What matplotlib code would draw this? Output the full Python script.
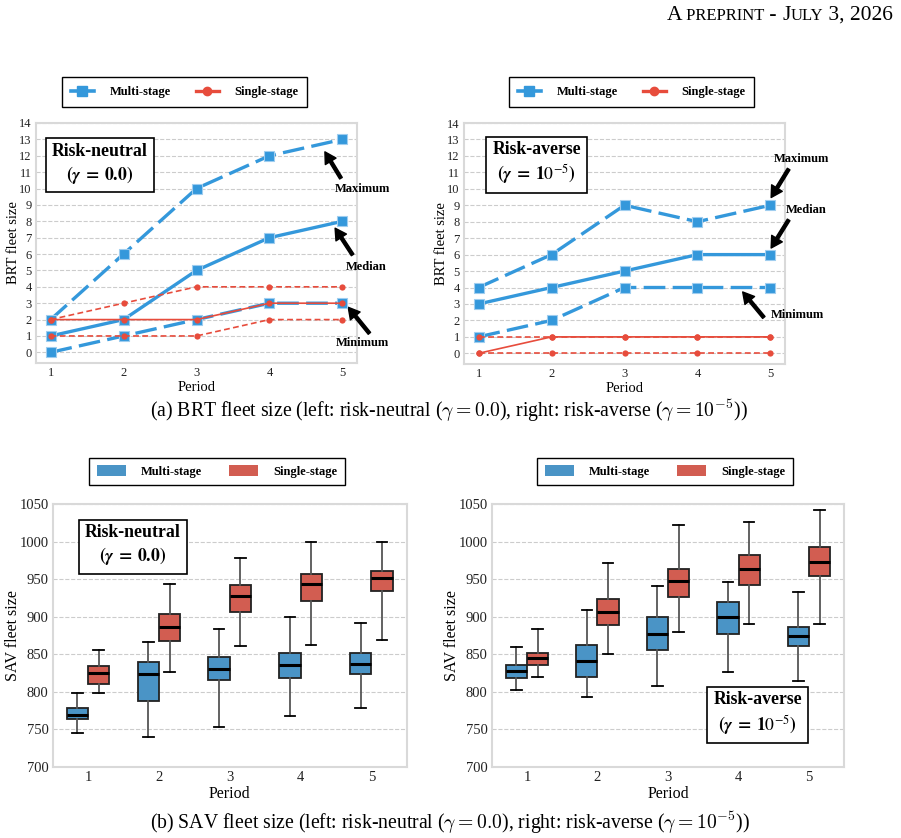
import matplotlib
matplotlib.use("Agg")
import matplotlib.pyplot as plt
from matplotlib.lines import Line2D
from matplotlib.patches import Patch

plt.rcParams['font.family'] = ['Liberation Serif', 'DejaVu Serif']
plt.rcParams['mathtext.fontset'] = 'stix'

# ---- data ----
periods = [1, 2, 3, 4, 5]

# BRT fleet size, risk-neutral
brt_rn_multi_max = [2, 6, 10, 12, 13]
brt_rn_multi_med = [1, 2, 5, 7, 8]
brt_rn_multi_min = [0, 1, 2, 3, 3]
brt_rn_single_max = [2, 3, 4, 4, 4]
brt_rn_single_med = [2, 2, 2, 3, 3]
brt_rn_single_min = [1, 1, 1, 2, 2]

# BRT fleet size, risk-averse
brt_ra_multi_max = [4, 6, 9, 8, 9]
brt_ra_multi_med = [3, 4, 5, 6, 6]
brt_ra_multi_min = [1, 2, 4, 4, 4]
brt_ra_single_max = [1, 1, 1, 1, 1]
brt_ra_single_med = [0, 1, 1, 1, 1]
brt_ra_single_min = [0, 0, 0, 0, 0]

# SAV fleet size boxes per period: (whisker low, q1, median, q3, whisker high)
sav_rn_multi = [(745, 764, 769, 778, 798), (740, 788, 824, 840, 866), (753, 816, 831, 847, 883),
                (768, 818, 836, 852, 899), (779, 824, 837, 852, 892)]
sav_rn_single = [(799, 810, 825, 834, 856), (827, 868, 886, 904, 944), (861, 906, 927, 942, 978),
                 (863, 921, 944, 957, 1000), (869, 934, 951, 961, 1000)]
sav_ra_multi = [(802, 819, 828, 836, 860), (793, 820, 841, 862, 909), (808, 856, 877, 899, 941),
                (826, 877, 899, 919, 946), (815, 861, 874, 886, 933)]
sav_ra_single = [(820, 836, 845, 852, 883), (850, 889, 906, 924, 971), (880, 926, 948, 964, 1022),
                 (890, 942, 963, 982, 1026), (890, 954, 973, 993, 1042)]

BLUE = '#3498db'
RED = '#e74c3c'
BOX_BLUE = '#4a94c6'
BOX_RED = '#d25d51'
W, H = 901, 838

fig = plt.figure(figsize=(W / 100, H / 100), dpi=100)


def px_axes(l, t, r, b):
    return fig.add_axes([l / W, 1 - b / H, (r - l) / W, (b - t) / H])


def style_axes(ax, tick_size):
    for s in ax.spines.values():
        s.set_color('#d9d9d9')
        s.set_linewidth(1.5)
    ax.grid(axis='y', linestyle='--', color='#cccccc', linewidth=0.8)
    ax.set_axisbelow(True)
    ax.tick_params(length=0, labelsize=tick_size, pad=3, labelcolor='#222222')


def label_box(ax, x, y, text1, text2):
    ax.text(x, y, text1 + '\n' + text2, transform=ax.transAxes, ha='center', va='center',
            fontsize=12.8, fontweight='bold', linespacing=1.25, zorder=10,
            bbox=dict(boxstyle='square,pad=0.35', facecolor='white', edgecolor='black', linewidth=1.2))


def brt_plot(ax, mmax, mmed, mmin, smax, smed, smin):
    blue_kw = dict(color=BLUE, marker='s', markersize=7, markeredgecolor='#9fcdef', markeredgewidth=0.8, zorder=4)
    ax.plot(periods, mmax, linewidth=2.4, dashes=(6.5, 2.2), **blue_kw)
    ax.plot(periods, mmed, linewidth=2.4, **blue_kw)
    ax.plot(periods, mmin, linewidth=2.4, dashes=(6.5, 2.2), **blue_kw)
    red_kw = dict(color=RED, marker='o', markersize=4.5, markeredgewidth=0, zorder=5)
    ax.plot(periods, smax, linewidth=1.2, dashes=(3.5, 2), **red_kw)
    ax.plot(periods, smed, linewidth=1.2, **red_kw)
    ax.plot(periods, smin, linewidth=1.2, dashes=(3.5, 2), **red_kw)
    ax.set_xlim(0.8, 5.2)
    ax.set_ylim(-0.65, 14)
    ax.set_xticks(periods)
    ax.set_yticks(range(0, 15))
    style_axes(ax, 9)
    ax.set_xlabel('Period', fontsize=10.5, labelpad=1)
    ax.set_ylabel('BRT fleet size', fontsize=10.5)
    ax.yaxis.set_label_coords(-0.05, 0.5)


def arrow(ax, text, head, tail, text_xy):
    ax.annotate('', xy=head, xytext=tail, annotation_clip=False,
                arrowprops=dict(facecolor='black', edgecolor='black', width=2.2, headwidth=9,
                                headlength=8, shrink=0))
    ax.text(text_xy[0], text_xy[1], text, ha='center', va='center', fontsize=9,
            fontweight='bold', clip_on=False)


def sav_plot(ax, multi, single):
    def stats(rows):
        return [dict(whislo=r[0], q1=r[1], med=r[2], q3=r[3], whishi=r[4]) for r in rows]
    common = dict(widths=0.3, patch_artist=True, showfliers=False,
                  whiskerprops=dict(color='#555555', linewidth=1.3),
                  capprops=dict(color='black', linewidth=1.3),
                  medianprops=dict(color='black', linewidth=2.2))
    ax.bxp(stats(multi), positions=[p - 0.15 for p in periods], **common,
           boxprops=dict(facecolor=BOX_BLUE, edgecolor='#222222', linewidth=1.3))
    ax.bxp(stats(single), positions=[p + 0.15 for p in periods], **common,
           boxprops=dict(facecolor=BOX_RED, edgecolor='#222222', linewidth=1.3))
    ax.set_xlim(0.5, 5.5)
    ax.set_ylim(700, 1050)
    ax.set_xticks(periods)
    ax.set_xticklabels([str(p) for p in periods])
    ax.set_yticks(range(700, 1051, 50))
    style_axes(ax, 10.5)
    ax.set_xlabel('Period', fontsize=11.5, labelpad=1)
    ax.set_ylabel('SAV fleet size', fontsize=11.5)
    ax.yaxis.set_label_coords(-0.09, 0.5)


# ---- top row: BRT ----
ax_tl = px_axes(36, 123, 357, 363)
brt_plot(ax_tl, brt_rn_multi_max, brt_rn_multi_med, brt_rn_multi_min,
         brt_rn_single_max, brt_rn_single_med, brt_rn_single_min)
label_box(ax_tl, 0.199, 0.829, 'Risk-neutral', r'$\boldsymbol{(\gamma\;=\;0.0)}$')
arrow(ax_tl, 'Maximum', (4.76, 12.24), (4.98, 10.63), (5.28, 9.98))
arrow(ax_tl, 'Median', (4.9, 7.58), (5.14, 5.95), (5.33, 5.23))
arrow(ax_tl, 'Minimum', (5.08, 2.75), (5.37, 1.16), (5.27, 0.59))

ax_tr = px_axes(464, 123, 785, 364)
brt_plot(ax_tr, brt_ra_multi_max, brt_ra_multi_med, brt_ra_multi_min,
         brt_ra_single_max, brt_ra_single_med, brt_ra_single_min)
label_box(ax_tr, 0.2265, 0.831, 'Risk-averse', r'$\boldsymbol{(\gamma\;=\;10^{-5})}$')
arrow(ax_tr, 'Maximum', (5.01, 9.47), (5.25, 11.2), (5.42, 11.84))
arrow(ax_tr, 'Median', (5.01, 6.4), (5.25, 8.11), (5.49, 8.72))
arrow(ax_tr, 'Minimum', (4.62, 3.73), (4.91, 2.18), (5.37, 2.31))

line_handles = [Line2D([], [], color=BLUE, linewidth=2.6, marker='s', markersize=7),
                Line2D([], [], color=RED, linewidth=2.4, marker='o', markersize=6)]
for cx in (184.5, 631.5):
    fig.legend(line_handles, ['Multi-stage', 'Single-stage'], loc='center',
               bbox_to_anchor=(cx / W, 1 - 92 / H), ncol=2, frameon=True, fancybox=False,
               edgecolor='black', framealpha=1, prop=dict(weight='bold', size=9),
               handlelength=1.9, columnspacing=2.0, handletextpad=1.2, borderpad=0.7)

# ---- bottom row: SAV ----
ax_bl = px_axes(52.7, 504, 406.7, 767)
sav_plot(ax_bl, sav_rn_multi, sav_rn_single)
label_box(ax_bl, 0.226, 0.841, 'Risk-neutral', r'$\boldsymbol{(\gamma\;=\;0.0)}$')

ax_br = px_axes(491.7, 504, 844.3, 767)
sav_plot(ax_br, sav_ra_multi, sav_ra_single)
label_box(ax_br, 0.754, 0.201, 'Risk-averse', r'$\boldsymbol{(\gamma\;=\;10^{-5})}$')

patch_handles = [Patch(facecolor=BOX_BLUE, edgecolor='none'), Patch(facecolor=BOX_RED, edgecolor='none')]
for cx in (217, 665):
    fig.legend(patch_handles, ['Multi-stage', 'Single-stage'], loc='center',
               bbox_to_anchor=(cx / W, 1 - 471.5 / H), ncol=2, frameon=True, fancybox=False,
               edgecolor='black', framealpha=1, prop=dict(weight='bold', size=9),
               handlelength=2.3, handleheight=1.0, columnspacing=2.2, handletextpad=1.2, borderpad=0.6)

# ---- captions ----
fig.text(449 / W, 1 - 411 / H,
         r'(a) BRT fleet size (left: risk-neutral ($\gamma = 0.0$), right: risk-averse ($\gamma = 10^{-5}$))',
         ha='center', va='center', fontsize=14.2, math_fontfamily='cm')
fig.text(450 / W, 1 - 823 / H,
         r'(b) SAV fleet size (left: risk-neutral ($\gamma = 0.0$), right: risk-averse ($\gamma = 10^{-5}$))',
         ha='center', va='center', fontsize=14.2, math_fontfamily='cm')

# ---- page header in small caps ----
renderer = fig.canvas.get_renderer()
pieces = [('A', 15.5), (' PREPRINT', 12), (' - ', 15.5), ('J', 15.5), ('ULY', 12), (' 3, 2026', 15.5)]
x = 0.0
parts = []
for s, size in pieces:
    t = fig.text(x, 1 - 20 / H, s, fontsize=size, ha='left', va='baseline')
    w = t.get_window_extent(renderer).width / W
    parts.append((t, x))
    x += w
shift = 893 / W - x
for t, x0 in parts:
    t.set_x(x0 + shift)

fig.savefig('out.png', dpi=100)
